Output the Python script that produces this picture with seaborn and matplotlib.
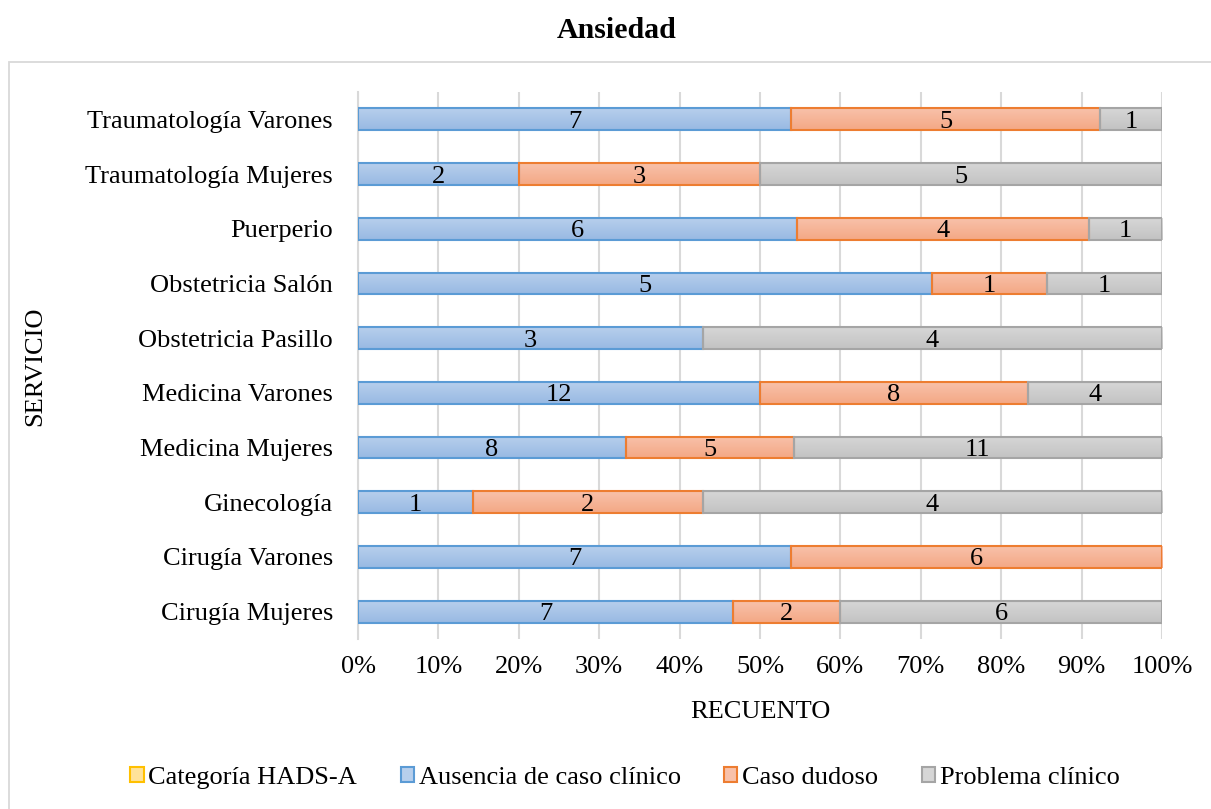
import numpy as np
import pandas as pd
import seaborn as sns
import matplotlib.pyplot as plt
from matplotlib.colors import LinearSegmentedColormap
from matplotlib.patches import Patch, Rectangle

servicios = ['Traumatología Varones', 'Traumatología Mujeres', 'Puerperio',
             'Obstetricia Salón', 'Obstetricia Pasillo', 'Medicina Varones',
             'Medicina Mujeres', 'Ginecología', 'Cirugía Varones', 'Cirugía Mujeres']
ausencia = [7, 2, 6, 5, 3, 12, 8, 1, 7, 7]
dudoso = [5, 3, 4, 1, 0, 8, 5, 2, 6, 2]
problema = [1, 5, 1, 1, 4, 4, 11, 4, 0, 6]

series_names = ['Ausencia de caso clínico', 'Caso dudoso', 'Problema clínico']
legend_names = ['Categoría HADS-A'] + series_names

# (top colour, bottom colour, edge colour)
styles = {
    'Categoría HADS-A': ('#ffe29a', '#ffd466', '#ffc000'),
    'Ausencia de caso clínico': ('#b7cfec', '#98b9e3', '#5b9bd5'),
    'Caso dudoso': ('#f8c1aa', '#f4a885', '#ed7d31'),
    'Problema clínico': ('#d6d6d6', '#c3c3c3', '#a5a5a5'),
}


def main():
    df = pd.DataFrame({'servicio': servicios, 'Ausencia de caso clínico': ausencia,
                       'Caso dudoso': dudoso, 'Problema clínico': problema})
    total = df[series_names].sum(axis=1)
    pct = df[series_names].div(total, axis=0) * 100

    sns.set_theme(style='white')
    plt.rcParams['font.family'] = ['Liberation Serif', 'DejaVu Serif']
    for k in ['text.color', 'axes.labelcolor', 'xtick.color', 'ytick.color']:
        plt.rcParams[k] = 'black'

    fig = plt.figure(figsize=(12.11, 8.09), dpi=100)
    ax = fig.add_axes([358 / 1211, 1 - 639 / 809, 804 / 1211, 547 / 809])

    left = np.zeros(len(servicios))
    for name in series_names:
        top_c, bot_c, edge_c = styles[name]
        sns.barplot(x=pct[name].values, y=servicios, ax=ax, orient='h', left=left,
                    color=top_c, width=0.4, edgecolor=edge_c, linewidth=1.5,
                    saturation=1, zorder=3)
        cont = ax.containers[-1]
        cmap = LinearSegmentedColormap.from_list(name, [top_c, bot_c])
        for p, v in zip(cont.patches, df[name].values):
            if v == 0:
                p.set_linewidth(0)
                continue
            p.set_facecolor('none')
            x0, y0 = p.get_x(), p.get_y()
            x1, y1 = x0 + p.get_width(), y0 + p.get_height()
            im = ax.imshow(np.linspace(0, 1, 50).reshape(-1, 1), cmap=cmap,
                           extent=(x0, x1, y1, y0), origin='upper',
                           aspect='auto', zorder=2.5)
            im.set_clip_path(p)
        labels = [str(v) if v > 0 else '' for v in df[name].values]
        texts = ax.bar_label(cont, labels=labels, label_type='center', fontsize=19,
                             color='black')
        for t in texts:
            t.set_va('center_baseline')
        left = left + pct[name].values

    ax.set_xlim(0, 100)
    ax.set_ylim(len(servicios) - 0.5, -0.5)
    ax.set_xticks(np.arange(0, 101, 10))
    ax.set_xticklabels([f'{t}%' for t in range(0, 101, 10)])
    ax.tick_params(axis='x', labelsize=19, pad=12, length=0)
    ax.tick_params(axis='y', labelsize=19, pad=18, length=0)
    ax.xaxis.grid(True, color='#d9d9d9', linewidth=1.5)
    ax.yaxis.grid(False)
    ax.set_axisbelow(True)
    for s in ['top', 'right', 'bottom']:
        ax.spines[s].set_visible(False)
    ax.spines['left'].set_color('#d9d9d9')
    ax.spines['left'].set_linewidth(1.5)
    ax.set_xlabel('')
    ax.set_ylabel('')

    fig.text(617 / 1211, 1 - 30 / 809, 'Ansiedad', ha='center', va='center',
             fontsize=21.5, fontweight='bold')
    fig.text(35 / 1211, 1 - 366 / 809, 'SERVICIO', rotation=90, ha='center',
             va='center', fontsize=19)
    fig.text(760 / 1211, 1 - 712 / 809, 'RECUENTO', ha='center', va='center',
             fontsize=19)

    fig.patches.append(Rectangle((9 / 1211, -0.01), 1.0, 1.01 - 62 / 809,
                                 transform=fig.transFigure, fill=False,
                                 edgecolor='#d9d9d9', linewidth=1.3))

    handles = [Patch(facecolor=styles[n][0], edgecolor=styles[n][2], linewidth=1.5)
               for n in legend_names]
    fig.legend(handles, legend_names, loc='center', bbox_to_anchor=(625 / 1211, 1 - 778 / 809),
               ncol=4, frameon=False, fontsize=19, handlelength=0.5, handleheight=0.5,
               handletextpad=0.18, columnspacing=1.65)

    fig.savefig('out.png', dpi=100)


if __name__ == '__main__':
    main()
